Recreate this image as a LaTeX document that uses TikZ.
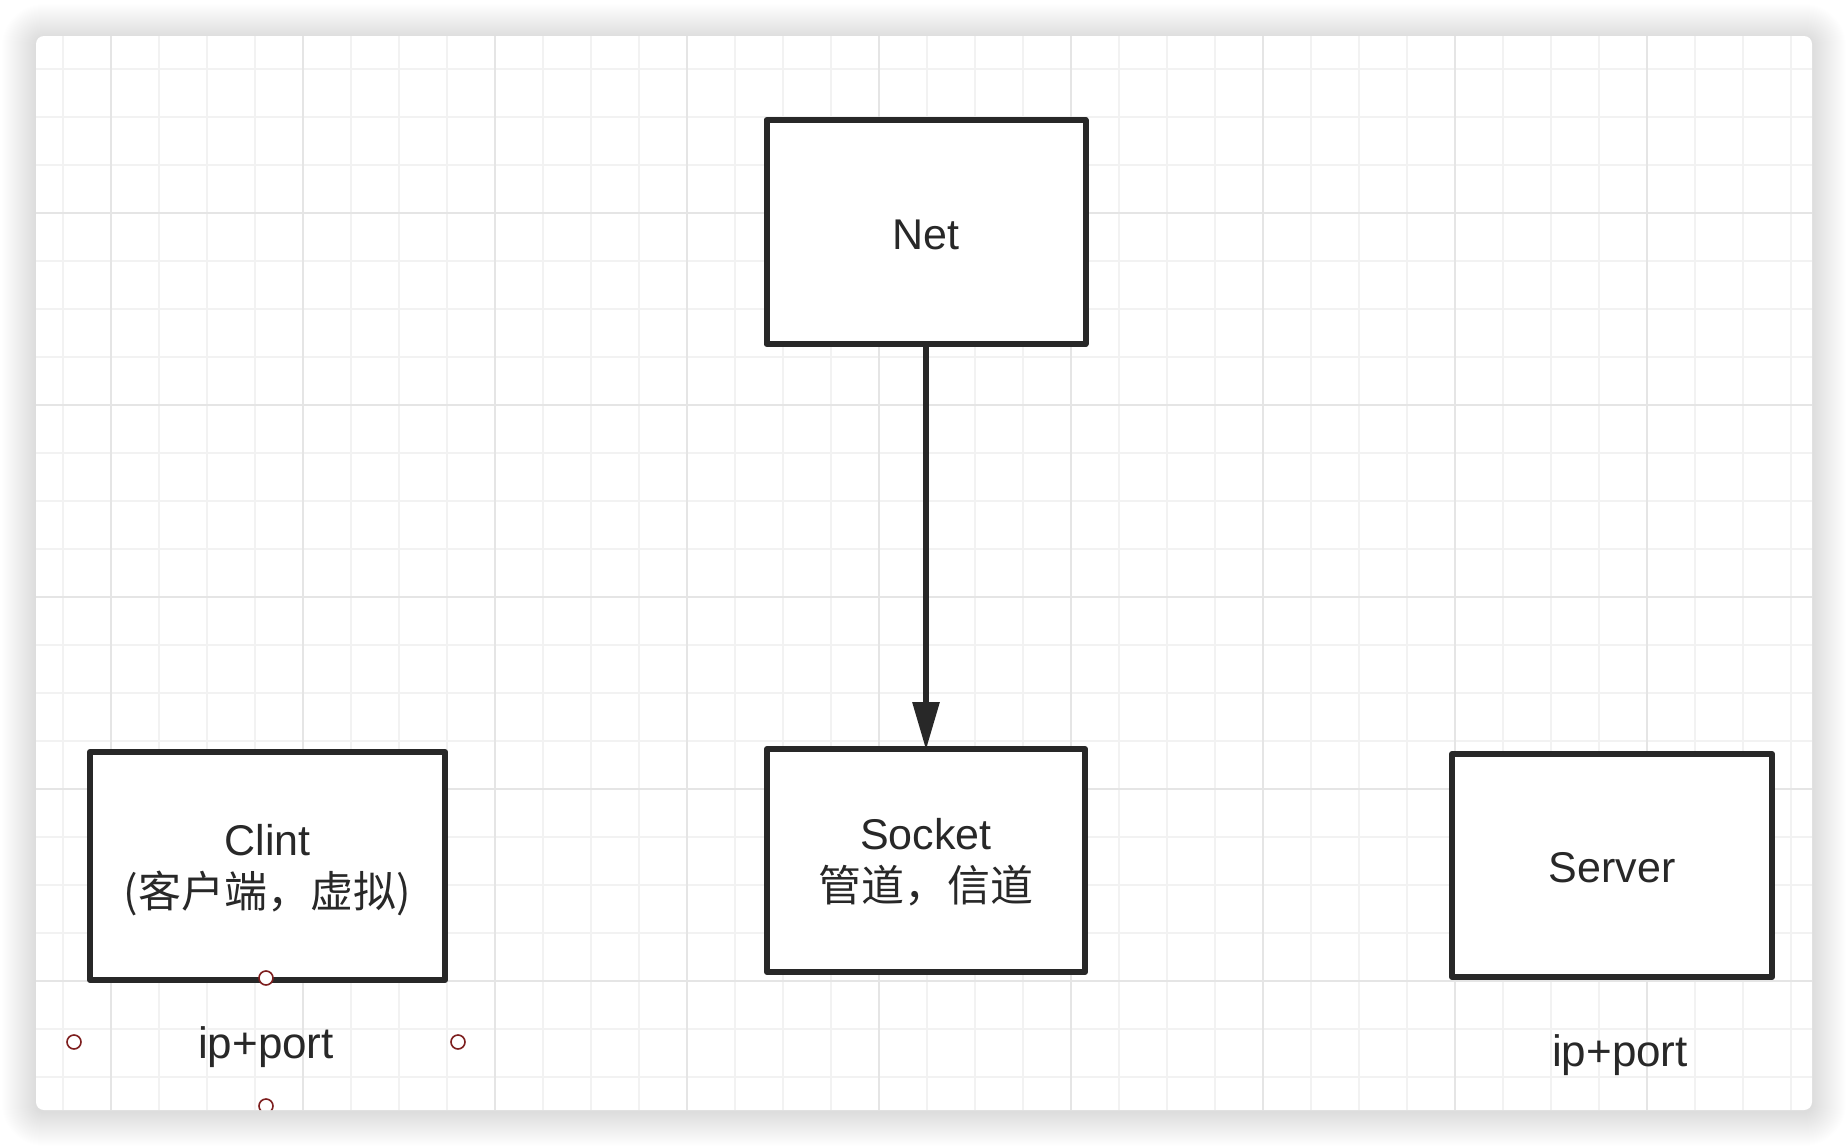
\documentclass[tikz,border=0pt]{standalone}
\usepackage{fontspec}
\setmainfont{Liberation Sans}
\newfontfamily\cjk{Noto Sans CJK SC}
\usetikzlibrary{arrows.meta}

\definecolor{ink}{RGB}{40,40,40}
\definecolor{gridminor}{RGB}{242,242,242}
\definecolor{gridmajor}{RGB}{229,229,229}
\definecolor{handle}{RGB}{125,30,30}

\newcommand{\lift}[1]{\rule{0pt}{#1}}

\tikzset{
  box/.style={draw=ink, line width=3pt, line join=round, fill=white, text=ink,
    inner sep=0pt, align=center, font=\fontsize{21.5}{26}\selectfont},
  lbl/.style={text=ink, inner sep=0pt, font=\fontsize{22}{26}\selectfont},
  link/.style={draw=ink, line width=3pt, shorten >=-2pt, -{Triangle[length=24pt,width=13pt]}},
  grip/.style={draw=handle, line width=0.8pt, fill=white},
}

\begin{document}
\begin{tikzpicture}[x=0.5pt,y=-0.5pt]
\useasboundingbox (0,0) rectangle (1848,1146);
\foreach \sh [evaluate=\sh as \rc using 4+0.5*\sh] in {1,...,34}
  \fill[black, opacity=0.0058, rounded corners=\rc pt] (36-\sh,38-\sh) rectangle (1812+\sh,1112+\sh);
\fill[white, rounded corners=4pt] (36,36) rectangle (1812,1110);
\begin{scope}
\clip[rounded corners=4pt] (36,36) rectangle (1812,1110);
\foreach \gx in {1,...,37} \draw[gridminor, line width=1pt] (14.7+48*\gx,36) -- (14.7+48*\gx,1110);
\foreach \gy in {1,...,22} \draw[gridminor, line width=1pt] (36,20.7+48*\gy) -- (1812,20.7+48*\gy);
\foreach \gx in {0,...,8} \draw[gridmajor, line width=1pt] (110.7+192*\gx,36) -- (110.7+192*\gx,1110);
\foreach \gy in {1,...,5} \draw[gridmajor, line width=1pt] (36,20.7+192*\gy) -- (1812,20.7+192*\gy);

\node[box, minimum width=159.5pt, minimum height=112pt] (net) at (926,232) {\lift{17.5pt}Net};
\node[box, minimum width=159pt, minimum height=111.5pt] (socket) at (926,860.5) {\lift{17.7pt}Socket\\{\cjk 管道，信道}};
\node[box, minimum width=177.5pt, minimum height=114pt] (clint) at (267.5,866) {\lift{20pt}Clint\\{\cjk (客户端，虚拟)}};
\node[box, minimum width=160pt, minimum height=111.5pt] (server) at (1612,865.5) {\lift{17.5pt}Server};

\node[lbl] (clintaddr) at (266,1047) {ip+port};
\node[lbl] (serveraddr) at (1620,1055) {ip+port};

\draw[link] (net) -- (socket);

\draw[grip] (266,978) circle (3.5pt);
\draw[grip] (74,1042) circle (3.5pt);
\draw[grip] (458,1042) circle (3.5pt);
\draw[grip] (266,1106) circle (3.5pt);
\end{scope}
\end{tikzpicture}
\end{document}
